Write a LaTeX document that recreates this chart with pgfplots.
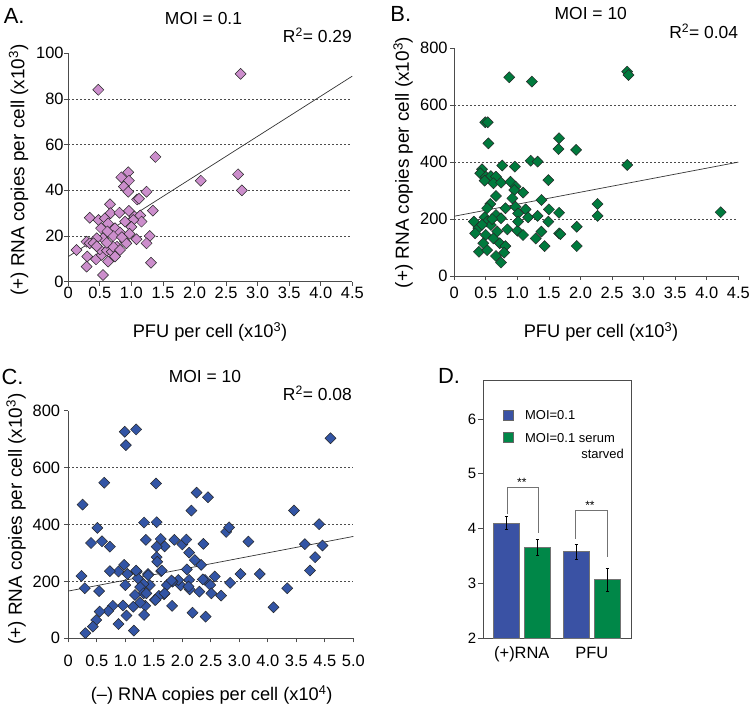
\documentclass[border=0pt]{standalone}
\usepackage{pgfplots}
\pgfplotsset{compat=1.18}
\usepackage{fontspec}
\setmainfont{Liberation Sans}
\definecolor{pinkA}{RGB}{204,142,204}
\definecolor{greenB}{RGB}{0,122,61}
\definecolor{blueC}{RGB}{51,85,165}
\definecolor{blueD}{RGB}{58,82,164}
\definecolor{greenD}{RGB}{0,135,72}
\newcommand{\fs}[1]{\fontsize{#1}{#1}\selectfont}
\pgfplotsset{
  scat/.style={
    scale only axis, clip=false,
    axis lines*=left,
    axis line style={black!70, line width=0.8bp},
    tick align=outside, major tick length=4bp,
    tick style={black!70, line width=0.8bp},
    /pgf/number format/assume math mode=true,
    tick label style={font=\fs{16.5}},
    grid style={black!70, dash pattern=on 2bp off 2bp, line width=0.7bp},
  },
  dia/.style={only marks, mark=square*, mark size=3.9bp,
    mark options={rotate=45, fill=#1, draw=black!85, line width=0.5bp}},
  fit/.style={black!80, line width=0.7bp, no marks},
}
\begin{document}
\begin{tikzpicture}[x=1bp,y=1bp]
\useasboundingbox (0,0) rectangle (750,706);

% ---------------- Panel A ----------------
\begin{axis}[scat, at={(68.3bp,424.3bp)}, anchor=south west,
  width=284bp, height=228.4bp,
  xmin=0, xmax=4.5, ymin=0, ymax=100,
  xtick={0,0.5,1,1.5,2,2.5,3,3.5,4,4.5},
  xticklabels={0,0.5,1.0,1.5,2.0,2.5,3.0,3.5,4.0,4.5},
  ytick={0,20,40,60,80,100},
  yticklabel style={inner sep=0.5bp},
  xticklabel style={yshift=2bp},
  extra y ticks={20,40,60,80}, extra y tick labels={},
  extra y tick style={grid=major, major tick length=0pt},
]
\addplot[dia=pinkA] coordinates {
(0.475,84) (2.73,91) (1.38,54.6) (2.10,44.2) (2.69,47) (2.75,40)
(0.84,45.7) (0.95,47.9) (0.96,44.2) (0.88,41.6) (0.95,39.4) (1.24,39.4) (1.09,36) (1.12,36.3)
(0.66,33.9) (1.34,31.1) (0.34,28) (0.48,27) (0.58,27.7) (0.67,30) (0.81,30.2) (0.96,31) (1.05,28.5) (1.14,29) (1.16,26.3) (1.03,27)
(0.52,23.4) (0.63,25.5) (0.74,23.4) (0.82,21.5) (0.71,20) (0.90,26.3) (1.00,24) (0.55,19) (0.45,19)
(1.29,20) (1.24,16.8) (1.08,18.6) (1.31,8.3)
(0.29,17.5) (0.34,16.8) (0.40,16.8) (0.13,13.9) (0.30,11) (0.44,9.8) (0.29,6.6) (0.55,2.9) (0.53,11.7) (0.63,8.8)
(0.50,14.2) (0.61,13.6) (0.69,13.1) (0.74,11) (0.77,15.3) (0.71,15.3) (0.82,13.9) (0.90,17.5) (0.92,16.8) (0.61,17) (0.85,19.5) (0.97,21) (0.62,22) (0.45,15.5)
};
\addplot[fit] coordinates {(0,11) (4.5,90)};
\end{axis}

% ---------------- Panel B ----------------
\begin{axis}[scat, at={(454.3bp,430bp)}, anchor=south west,
  width=284bp, height=227.7bp,
  xmin=0, xmax=4.5, ymin=0, ymax=800,
  xtick={0,0.5,1,1.5,2,2.5,3,3.5,4,4.5},
  xticklabels={0,0.5,1.0,1.5,2.0,2.5,3.0,3.5,4.0,4.5},
  ytick={0,200,400,600,800},
  yticklabel style={inner sep=2.5bp},
  xticklabel style={yshift=-3.5bp},
  extra y ticks={200,400,600}, extra y tick labels={},
  extra y tick style={grid=major, major tick length=0pt},
]
\addplot[dia=greenB] coordinates {
(0.87,698) (1.23,683) (2.74,718) (2.76,706) (0.49,540) (0.53,540) (0.54,466)
(1.66,484) (1.65,446) (1.93,443) (1.21,405) (1.32,402) (2.74,390) (0.76,388) (0.96,384) (0.44,375)
(0.41,361) (0.50,349) (0.58,351) (0.66,349) (0.48,335) (0.62,326) (0.74,328) (0.89,331) (0.97,314) (1.49,337)
(1.09,293) (0.95,302) (0.92,273) (0.66,281) (1.38,267) (2.27,253) (2.27,211) (4.22,224)
(0.57,253) (0.52,238) (0.81,238) (0.97,243) (1.01,220) (1.13,234) (1.17,206) (1.32,211) (1.50,234) (1.66,222) (1.49,191)
(0.66,214) (0.48,206) (0.74,203) (0.31,191) (0.52,191) (0.38,168) (0.33,150) (0.84,164) (1.00,159) (1.09,144) (1.29,132) (1.38,156) (1.66,150) (1.68,147)
(1.94,173) (1.94,105) (1.43,105) (0.58,179) (0.68,156) (0.50,144) (0.62,132) (0.72,115) (0.81,105) (0.39,85) (0.52,91) (0.66,70) (0.74,47) (0.46,115) (0.79,82) (1.01,191) (0.60,200) (0.44,180)
};
\addplot[fit] coordinates {(0,210) (4.5,400)};
\end{axis}

% ---------------- Panel C ----------------
\begin{axis}[scat, at={(68.3bp,67.7bp)}, anchor=south west,
  width=285bp, height=227.6bp,
  xmin=0, xmax=5, ymin=0, ymax=800,
  xtick={0,0.5,1,1.5,2,2.5,3,3.5,4,4.5,5},
  xticklabels={0,0.5,1.0,1.5,2.0,2.5,3.0,4.0,3.5,4.5,5.0},
  ytick={0,200,400,600,800},
  yticklabel style={inner sep=4bp},
  xticklabel style={yshift=-9.5bp},
  extra y ticks={200,400,600}, extra y tick labels={},
  extra y tick style={grid=major, major tick length=0pt},
]
\addplot[dia=blueC] coordinates {
(0.99,726) (1.19,734) (1.01,679) (4.60,703) (0.25,470) (0.63,547) (1.54,544) (2.25,512) (2.45,496) (2.16,449) (3.96,449)
(1.33,407) (1.55,408) (4.40,401) (0.51,388) (2.77,374) (2.82,390) (0.40,335) (0.59,341) (0.73,322) (1.36,346) (1.62,349) (1.69,323) (1.55,322) (1.86,346) (2.00,330) (2.07,347) (2.12,301) (2.37,332) (3.16,340) (4.15,331) (4.46,326) (4.33,285) (4.24,238) (3.84,176) (3.60,109) (3.36,226) (3.02,226)
(2.68,150) (2.84,195) (2.57,217) (2.40,205) (2.49,187) (2.51,158) (2.30,164) (2.41,76) (2.18,90) (2.33,258) (2.22,275) (2.08,242) (2.12,205) (2.13,172) (1.97,186) (1.93,205) (1.83,199) (1.82,114) (1.73,187) (1.68,155) (1.55,285) (1.56,269) (1.63,236) (1.59,149) (1.52,135) (1.40,226) (1.43,187) (1.32,191) (1.26,180) (1.32,158) (1.35,114) (1.33,82) (1.20,234) (1.22,211) (1.17,152) (1.26,125) (1.14,111) (1.15,27) (1.02,80) (0.96,115) (0.88,50) (1.00,187) (0.98,258) (0.88,235) (0.73,236) (0.78,114) (0.70,96) (0.55,94) (0.49,64) (0.43,41) (0.30,18) (0.23,219) (0.29,176) (0.54,166) (1.04,226) (1.19,238) (1.40,222) (1.64,238) (1.81,203) (2.11,182) (2.36,207) (1.37,158) (1.53,135) (1.69,158)
};
\addplot[fit] coordinates {(0,166) (5,358)};
\end{axis}

% ---------------- Panel D ----------------
\begin{axis}[scale only axis, at={(483.3bp,67.7bp)}, anchor=south west,
  width=148.4bp, height=257.6bp,
  xmin=-0.55, xmax=1.57, ymin=2, ymax=6.7,
  ybar=4.5bp, bar width=26.5bp,
  axis line style={black!70, line width=0.8bp},
  xtick={0,1}, xticklabels={(+)RNA,PFU},
  xtick style={draw=none},
  xticklabel style={font=\fs{16.5}},
  ytick={2,3,4,5,6}, ytick pos=left,
  tick align=outside, major tick length=5bp,
  ytick style={black!70, line width=0.8bp},
  /pgf/number format/assume math mode=true,
  yticklabel style={font=\fs{15}, inner sep=2bp},
]
\addplot[fill=blueD, draw=black!55, line width=0.4bp,
  error bars/.cd, y dir=both, y explicit,
  error bar style={black, line width=0.6bp},
  error mark options={rotate=90, mark size=1.8bp, black, line width=0.6bp}]
  coordinates {(0,4.10) +- (0,0.12) (1,3.58) +- (0,0.13)};
\addplot[fill=greenD, draw=black!55, line width=0.4bp,
  error bars/.cd, y dir=both, y explicit,
  error bar style={black, line width=0.6bp},
  error mark options={rotate=90, mark size=1.8bp, black, line width=0.6bp}]
  coordinates {(0,3.66) +- (0,0.14) (1,3.07) +- (0,0.21)};
\draw[black!55, line width=0.8bp] (axis cs:-0.207,4.26) |- (axis cs:0.236,4.76) -- (axis cs:0.236,3.92);
\draw[black!55, line width=0.8bp] (axis cs:0.77,3.82) |- (axis cs:1.221,4.33) -- (axis cs:1.221,3.49);
\node[font=\fs{12}] at (axis cs:0,4.84) {**};
\node[font=\fs{12}] at (axis cs:0.974,4.42) {**};
\end{axis}

% legend of panel D
\filldraw[fill=blueD, draw=black!60, line width=0.4bp] (502.7,285.3) rectangle (513.3,296);
\filldraw[fill=greenD, draw=black!60, line width=0.4bp] (502.7,263.3) rectangle (513.3,273.3);
\node[font=\fs{13}, anchor=west, inner sep=0pt] at (525,290.7) {MOI=0.1};
\node[font=\fs{13}, anchor=west, inner sep=0pt] at (525,268.3) {MOI=0.1 serum};
\node[font=\fs{13}, anchor=east, inner sep=0pt] at (624,252) {starved};

% ---------------- Text ----------------
\node[font=\fs{22}] at (14.2,690.2) {A.};
\node[font=\fs{17.5}] at (203.5,687.7) {MOI = 0.1};
\node[font=\fs{17.5}, anchor=east, inner sep=0pt] at (352,671) {R\textsuperscript{2}= 0.29};
\node[font=\fs{18.3}] at (210,374.3) {PFU per cell (x10\textsuperscript{3})};
\node[font=\fs{19}, rotate=90] at (18.5,536) {(+) RNA copies per cell (x10\textsuperscript{3})};

\node[font=\fs{22}] at (400.8,691.8) {B.};
\node[font=\fs{17.5}] at (590.8,692.7) {MOI = 10};
\node[font=\fs{17.5}, anchor=east, inner sep=0pt] at (738.3,674.3) {R\textsuperscript{2}= 0.04};
\node[font=\fs{18.3}] at (601,374.3) {PFU per cell (x10\textsuperscript{3})};
\node[font=\fs{19}, rotate=90] at (403,543.5) {(+) RNA copies per cell (x10\textsuperscript{3})};

\node[font=\fs{22}] at (12.5,329.3) {C.};
\node[font=\fs{17.5}] at (205,329.3) {MOI = 10};
\node[font=\fs{17.5}, anchor=east, inner sep=0pt] at (352,312.7) {R\textsuperscript{2}= 0.08};
\node[font=\fs{18.3}] at (211.7,11) {(--) RNA copies per cell (x10\textsuperscript{4})};
\node[font=\fs{19}, rotate=90] at (16,187) {(+) RNA copies per cell (x10\textsuperscript{3})};

\node[font=\fs{22}] at (449,330.2) {D.};
\end{tikzpicture}
\end{document}
